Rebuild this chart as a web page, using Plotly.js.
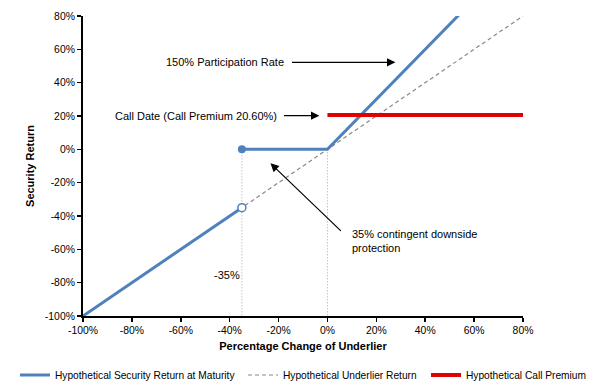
<!DOCTYPE html>
<html>
<head>
<meta charset="utf-8">
<script src="https://cdn.plot.ly/plotly-3.0.1.min.js"></script>
<style>html,body{margin:0;padding:0;background:#fff;}#chart{width:599px;height:387px;}</style>
</head>
<body>
<div id="chart"></div>
<script>
// Data
const underlierX = [-100, 80];
const underlierY = [-100, 80];
const securityX = [-100, -35, null, -35, 0, 80];
const securityY = [-100, -35, null, 0, 0, 120];
const callX = [0, 80];
const callY = [20.6, 20.6];
const knockX = [-35];
const knockYFilled = [0];
const knockYHollow = [-35];
const guide1X = [-35, -35];
const guide1Y = [0, -100];
const guide2X = [0, 0];
const guide2Y = [0, -100];
const tickVals = [-100, -80, -60, -40, -20, 0, 20, 40, 60, 80];
const tickText = ['-100%', '-80%', '-60%', '-40%', '-20%', '0%', '20%', '40%', '60%', '80%'];
const seriesNames = ['Hypothetical Security Return at Maturity', 'Hypothetical Underlier Return', 'Hypothetical Call Premium'];

const blue = '#4F81BD';
const red = '#E00000';
const font = 'Liberation Sans, Arial, sans-serif';

const traces = [
  {x: guide1X, y: guide1Y, mode: 'lines', line: {color: '#A6A6A6', width: 1, dash: '1px,2px'}, showlegend: false, hoverinfo: 'skip'},
  {x: guide2X, y: guide2Y, mode: 'lines', line: {color: '#A6A6A6', width: 1, dash: '1px,2px'}, showlegend: false, hoverinfo: 'skip'},
  {x: underlierX, y: underlierY, mode: 'lines', name: seriesNames[1], legend: 'legend2', line: {color: '#888888', width: 1.2, dash: '4px,3px'}},
  {x: securityX, y: securityY, mode: 'lines', name: seriesNames[0], legend: 'legend', line: {color: blue, width: 3}},
  {x: callX, y: callY, mode: 'lines', name: seriesNames[2], legend: 'legend3', line: {color: red, width: 4}},
  {x: knockX, y: knockYFilled, mode: 'markers', showlegend: false, marker: {color: blue, size: 8}},
  {x: knockX, y: knockYHollow, mode: 'markers', showlegend: false, marker: {color: '#ffffff', size: 8, line: {color: blue, width: 1.5}}}
];

const annFont = {family: font, size: 11, color: '#000'};
const tickFont = {family: font, size: 10.4, color: '#000'};
const legFont = {family: font, size: 10.2, color: '#000'};
function leg(xpx) {
  return {orientation: 'h', x: xpx / 599, xanchor: 'left', xref: 'container', y: 1 - 375 / 387, yref: 'container', yanchor: 'middle', font: legFont, itemwidth: 30, bgcolor: 'rgba(0,0,0,0)', borderwidth: 0};
}
const layout = {
  width: 599, height: 387,
  margin: {l: 83, r: 76, t: 16, b: 71, autoexpand: false},
  paper_bgcolor: '#fff', plot_bgcolor: '#fff',
  font: {family: font, size: 11, color: '#000'},
  showlegend: true,
  legend: leg(15),
  legend2: leg(243),
  legend3: leg(426),
  xaxis: {
    range: [-100, 80], tickvals: tickVals, ticktext: tickText, automargin: true,
    showline: true, linecolor: '#000', linewidth: 2, mirror: false,
    ticks: 'outside', ticklen: 4, tickwidth: 1.5, tickcolor: '#000',
    showgrid: false, zeroline: false, tickfont: tickFont,
    title: {text: '<b>Percentage Change of Underlier</b>', font: {family: font, size: 11, color: '#000'}, standoff: 7}
  },
  yaxis: {
    range: [-100, 80], tickvals: tickVals, ticktext: tickText, automargin: true,
    showline: true, linecolor: '#000', linewidth: 2,
    ticks: 'outside', ticklen: 4, tickwidth: 1.5, tickcolor: '#000',
    showgrid: false, zeroline: false, tickfont: tickFont,
    title: {text: '<b>Security Return</b>', font: {family: font, size: 11, color: '#000'}, standoff: 8}
  },
  annotations: [
    {x: 27.8, y: 52.2, ax: -15.1, ay: 52.2, axref: 'x', ayref: 'y', xref: 'x', yref: 'y', text: '', showarrow: true, arrowhead: 2, arrowsize: 1.4, arrowwidth: 1.2, arrowcolor: '#000'},
    {x: -17, y: 52.2, xref: 'x', yref: 'y', text: '150% Participation Rate', showarrow: false, xanchor: 'right', font: annFont},
    {x: -3.3, y: 20.2, ax: -18.4, ay: 20.2, axref: 'x', ayref: 'y', xref: 'x', yref: 'y', text: '', showarrow: true, arrowhead: 2, arrowsize: 1.4, arrowwidth: 1.2, arrowcolor: '#000'},
    {x: -20, y: 20.2, xref: 'x', yref: 'y', text: 'Call Date (Call Premium 20.60%)', showarrow: false, xanchor: 'right', font: annFont},
    {x: -23.3, y: -8.4, ax: 6.1, ay: -49.8, axref: 'x', ayref: 'y', xref: 'x', yref: 'y', text: '', showarrow: true, arrowhead: 2, arrowsize: 1.4, arrowwidth: 1.2, arrowcolor: '#000'},
    {x: 9.2, y: -55, xref: 'x', yref: 'y', text: '35% contingent downside<br>protection', showarrow: false, xanchor: 'left', align: 'left', font: annFont},
    {x: -41, y: -75.6, xref: 'x', yref: 'y', text: '-35%', showarrow: false, xanchor: 'center', font: annFont}
  ]
};

Plotly.newPlot('chart', traces, layout, {displayModeBar: false, staticPlot: true});
</script>
</body>
</html>
